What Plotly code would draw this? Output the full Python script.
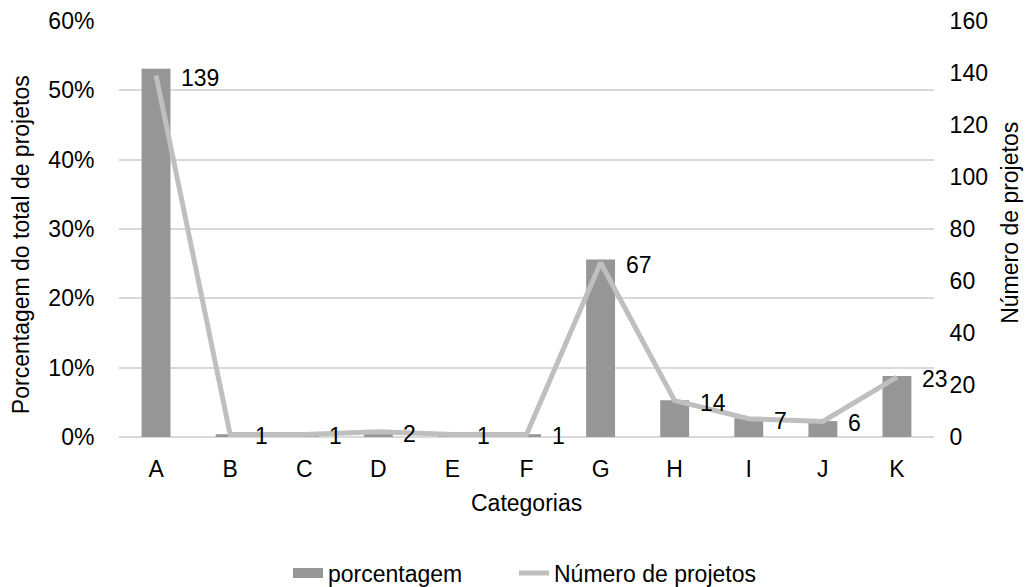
import plotly.graph_objects as go

categorias = ["A", "B", "C", "D", "E", "F", "G", "H", "I", "J", "K"]
porcentagem = [0.531, 0.004, 0.004, 0.008, 0.004, 0.004, 0.256, 0.053, 0.027, 0.023, 0.088]
numero_projetos = [139, 1, 1, 2, 1, 1, 67, 14, 7, 6, 23]

FONT = "Liberation Sans, Arial, sans-serif"
FS = 23
BAR_COLOR = "#969696"
LINE_COLOR = "#BFBFBF"
GRID_COLOR = "#D9D9D9"

fig = go.Figure()

# Percentage bars on the left axis
fig.add_trace(go.Bar(
    x=categorias,
    y=porcentagem,
    name="porcentagem",
    marker=dict(color=BAR_COLOR, line=dict(width=0)),
    width=0.39,
    yaxis="y",
    showlegend=False,
))

# Wide swatch used as the legend entry for the bars
fig.add_trace(go.Scatter(
    x=[None],
    y=[None],
    name="porcentagem",
    mode="lines",
    line=dict(color=BAR_COLOR, width=13),
    yaxis="y",
    legend="legend",
))

# Project count line on the right axis
fig.add_trace(go.Scatter(
    x=categorias,
    y=numero_projetos,
    name="Número de projetos",
    mode="lines",
    line=dict(color=LINE_COLOR, width=5),
    yaxis="y2",
    legend="legend2",
))

# Value labels next to each point of the line
annotations = [
    dict(
        x=c, y=v, xref="x", yref="y2",
        text=str(v), showarrow=False,
        xanchor="left", yanchor="middle",
        xshift=23, yshift=-2,
        font=dict(size=FS, color="black", family=FONT),
    )
    for c, v in zip(categorias, numero_projetos)
]

# Axis titles
annotations += [
    dict(text="Categorias", x=0.5, y=-0.158, xref="paper", yref="paper",
         showarrow=False, xanchor="center", yanchor="middle",
         font=dict(size=FS, color="black", family=FONT)),
    dict(text="Porcentagem do total de projetos", x=-0.1201, y=0.4615,
         xref="paper", yref="paper", textangle=-90, showarrow=False,
         xanchor="center", yanchor="middle",
         font=dict(size=FS, color="black", family=FONT)),
    dict(text="Número de projetos", x=1.094, y=0.514,
         xref="paper", yref="paper", textangle=-90, showarrow=False,
         xanchor="center", yanchor="middle",
         font=dict(size=FS, color="black", family=FONT)),
]

legend_common = dict(
    orientation="h",
    xref="container",
    yref="container",
    xanchor="left",
    y=1 - 573 / 587,
    yanchor="middle",
    font=dict(size=FS),
    bgcolor="rgba(0,0,0,0)",
)

fig.update_layout(
    width=1035,
    height=587,
    margin=dict(l=119, r=101, t=21, b=150),
    paper_bgcolor="white",
    plot_bgcolor="white",
    font=dict(family=FONT, size=FS, color="black"),
    showlegend=True,
    annotations=annotations,
    legend=dict(x=288 / 1035, **legend_common),
    legend2=dict(x=514 / 1035, **legend_common),
    xaxis=dict(
        automargin=False,
        range=[-0.5, 10.5],
        showgrid=False,
        showline=False,
        ticks="outside",
        ticklen=11,
        tickcolor="rgba(0,0,0,0)",
        tickfont=dict(size=FS),
    ),
    yaxis=dict(
        automargin=False,
        range=[0, 0.6],
        dtick=0.1,
        tickformat=".0%",
        showgrid=True,
        gridcolor=GRID_COLOR,
        gridwidth=2,
        zeroline=True,
        zerolinecolor=GRID_COLOR,
        zerolinewidth=2,
        showline=False,
        ticks="outside",
        ticklen=19,
        tickcolor="rgba(0,0,0,0)",
        tickfont=dict(size=FS),
    ),
    yaxis2=dict(
        automargin=False,
        range=[0, 160],
        dtick=20,
        overlaying="y",
        side="right",
        showgrid=False,
        zeroline=False,
        showline=False,
        ticks="outside",
        ticklen=10,
        tickcolor="rgba(0,0,0,0)",
        tickfont=dict(size=FS),
    ),
)

fig.write_html("out.html")
